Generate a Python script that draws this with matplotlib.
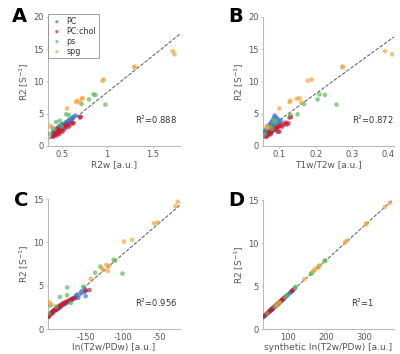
import matplotlib.pyplot as plt

# groups / colours
groups = ["PC", "PC:chol", "ps", "spg"]
colors = ["#3a78c9", "#c41e3a", "#5cba5c", "#f5a33a"]

# R2 values per group (same in every panel)
r2_pc = [4.7, 4.5, 4.3, 4.2, 4.0, 3.8, 3.7, 3.5, 3.4, 3.3, 3.2, 3.1, 3.0, 2.9, 2.8,
         2.7, 2.6, 2.5, 2.4, 2.3, 2.2, 2.1, 2.0, 3.6, 3.9]
r2_chol = [4.5, 4.4, 3.6, 3.5, 3.4, 3.3, 3.2, 3.1, 3.0, 2.9, 2.8, 2.7, 2.6, 2.5, 2.4,
           2.3, 2.2, 2.1, 2.0, 1.9, 1.8, 1.7, 1.6, 1.5, 1.4, 2.6, 2.2, 1.8, 3.0, 2.4]
r2_ps = [8.0, 7.9, 7.2, 6.5, 6.4, 4.9, 4.8, 3.9, 3.7, 2.7, 2.6, 1.8, 3.0]
r2_spg = [14.7, 14.2, 12.2, 12.3, 10.1, 10.3, 7.4, 7.3, 7.0, 6.8, 6.7, 5.8, 3.1, 2.8]

# panel A: R2w
a_pc = [0.65, 0.63, 0.62, 0.60, 0.58, 0.57, 0.55, 0.54, 0.52, 0.50, 0.51, 0.49, 0.47, 0.48, 0.46,
        0.45, 0.44, 0.43, 0.44, 0.42, 0.41, 0.42, 0.40, 0.56, 0.60]
a_chol = [0.71, 0.70, 0.62, 0.63, 0.60, 0.57, 0.55, 0.54, 0.52, 0.55, 0.51, 0.50, 0.53, 0.48, 0.50,
          0.47, 0.46, 0.48, 0.44, 0.45, 0.43, 0.42, 0.44, 0.41, 0.40, 0.46, 0.51, 0.47, 0.58, 0.43]
a_ps = [0.85, 0.87, 0.80, 0.72, 0.98, 0.55, 0.58, 0.48, 0.44, 0.40, 0.42, 0.36, 0.50]
a_spg = [1.72, 1.74, 1.30, 1.30, 0.95, 0.96, 0.73, 0.72, 0.67, 0.66, 0.70, 0.56, 0.38, 0.40]

# panel B: T1w/T2w
b_pc = [0.088, 0.085, 0.092, 0.095, 0.082, 0.098, 0.078, 0.090, 0.075, 0.085, 0.072, 0.080, 0.070,
        0.078, 0.068, 0.074, 0.065, 0.070, 0.062, 0.066, 0.060, 0.063, 0.058, 0.100, 0.105]
b_chol = [0.132, 0.128, 0.118, 0.125, 0.113, 0.120, 0.105, 0.100, 0.095, 0.098, 0.092, 0.088, 0.090,
          0.085, 0.082, 0.080, 0.095, 0.078, 0.075, 0.072, 0.070, 0.068, 0.065, 0.066, 0.062,
          0.078, 0.100, 0.076, 0.108, 0.070]
b_ps = [0.210, 0.225, 0.205, 0.168, 0.257, 0.150, 0.130, 0.090, 0.085, 0.065, 0.080, 0.060, 0.075]
b_spg = [0.390, 0.410, 0.273, 0.274, 0.178, 0.189, 0.155, 0.148, 0.130, 0.128, 0.160, 0.100, 0.065, 0.068]

# panel C: ln(T2w/PDw)
c_pc = [-152, -150, -152, -155, -158, -150, -162, -165, -168, -170, -172, -175, -176, -178, -180,
        -182, -184, -186, -186, -188, -190, -192, -194, -160, -163]
c_chol = [-145, -150, -165, -168, -170, -172, -175, -177, -180, -181, -183, -185, -186, -188, -189,
          -191, -192, -194, -195, -196, -197, -198, -199, -200, -200, -184, -190, -195, -178, -187]
c_ps = [-112, -110, -130, -137, -100, -153, -175, -175, -185, -198, -190, -200, -170]
c_spg = [-25, -28, -57, -52, -98, -87, -122, -118, -128, -126, -120, -143, -199, -196]

# panel D: synthetic ln(T2w/PDw)
d_pc = [117, 112, 107, 105, 100, 95, 92, 87, 85, 82, 80, 77, 75, 72, 70,
        67, 65, 62, 60, 57, 55, 52, 50, 90, 97]
d_chol = [112, 110, 90, 87, 85, 82, 80, 77, 75, 72, 70, 67, 65, 62, 60,
          57, 55, 52, 50, 47, 45, 42, 40, 37, 35, 65, 55, 45, 75, 60]
d_ps = [198, 196, 180, 162, 160, 120, 118, 97, 92, 68, 65, 45, 75]
d_spg = [368, 355, 305, 307, 250, 255, 183, 180, 172, 168, 166, 143, 78, 70]

# fitted lines (slope, intercept) and R^2
fits = [(11.3, -3.0), (41.0, -0.1), (0.073, 15.9), (0.04, 0.0)]
r2_text = ["0.888", "0.872", "0.956", "1"]

panels = [
    ("A", [a_pc, a_chol, a_ps, a_spg], "R2w [a.u.]", (0.35, 1.8), [0.5, 1, 1.5], ["0.5", "1", "1.5"], 20),
    ("B", [b_pc, b_chol, b_ps, b_spg], "T1w/T2w [a.u.]", (0.055, 0.415), [0.1, 0.2, 0.3, 0.4], ["0.1", "0.2", "0.3", "0.4"], 20),
    ("C", [c_pc, c_chol, c_ps, c_spg], "ln(T2w/PDw) [a.u.]", (-201, -22), [-150, -100, -50], ["-150", "-100", "-50"], 15),
    ("D", [d_pc, d_chol, d_ps, d_spg], "synthetic ln(T2w/PDw) [a.u.]", (34, 379), [100, 200, 300], ["100", "200", "300"], 15),
]
r2_all = [r2_pc, r2_chol, r2_ps, r2_spg]

rects = [
    [0.12, 0.588, 0.33, 0.364],
    [0.6575, 0.588, 0.3275, 0.364],
    [0.12, 0.0706, 0.33, 0.367],
    [0.6575, 0.0706, 0.3275, 0.364],
]
letter_pos = [(0.03, 0.952), (0.57, 0.952), (0.035, 0.435), (0.57, 0.435)]
r2_pos = [(0.98, 0.2), (1.0, 0.2), (0.98, 0.2), (0.76, 0.2)]

fig = plt.figure(figsize=(4, 3.54), dpi=100)
for i, (letter, xs, xlabel, xlim, xt, xtl, ymax) in enumerate(panels):
    ax = fig.add_axes(rects[i])
    for x, y, c, g in zip(xs, r2_all, colors, groups):
        ax.scatter(x, y, s=11, color=c, alpha=0.7, edgecolors="none", label=g, zorder=3)
    m, b = fits[i]
    ax.plot(xlim, [m * xlim[0] + b, m * xlim[1] + b], "--", color="#555555", lw=0.7, zorder=2)
    ax.set_xlim(xlim)
    ax.set_ylim(0, ymax)
    ax.set_xticks(xt)
    ax.set_xticklabels(xtl)
    ax.set_yticks(range(0, ymax + 1, 5))
    for s in ["top", "right"]:
        ax.spines[s].set_visible(False)
    for s in ["left", "bottom"]:
        ax.spines[s].set_color("#bbbbbb")
        ax.spines[s].set_linewidth(0.8)
    ax.tick_params(labelsize=6, colors="#bbbbbb", labelcolor="#555555", length=1.5, width=0.6, pad=1.5)
    ax.set_xlabel(xlabel, fontsize=6.5, color="#555555", labelpad=0.7)
    ax.set_ylabel("R2 [S$^{-1}$]", fontsize=6.5, color="#555555", labelpad=2)
    ha = "right" if i < 3 else "center"
    ax.text(r2_pos[i][0], r2_pos[i][1], "R$^2$=" + r2_text[i], transform=ax.transAxes,
            fontsize=6, color="#333333", ha=ha, va="center")
    fig.text(letter_pos[i][0], letter_pos[i][1], letter, fontsize=14, fontweight="bold", va="center")
    if i == 0:
        leg = ax.legend(loc="upper left", bbox_to_anchor=(0.0, 1.02), borderaxespad=0, fontsize=5.8,
                        frameon=True, fancybox=False, handletextpad=0.4, labelspacing=0.12,
                        borderpad=0.3, markerscale=0.7, handlelength=1.6)
        leg.get_frame().set_edgecolor("#888888")
        leg.get_frame().set_linewidth(0.7)
        for t in leg.get_texts():
            t.set_color("#333333")

fig.savefig("out.png", dpi=100)
